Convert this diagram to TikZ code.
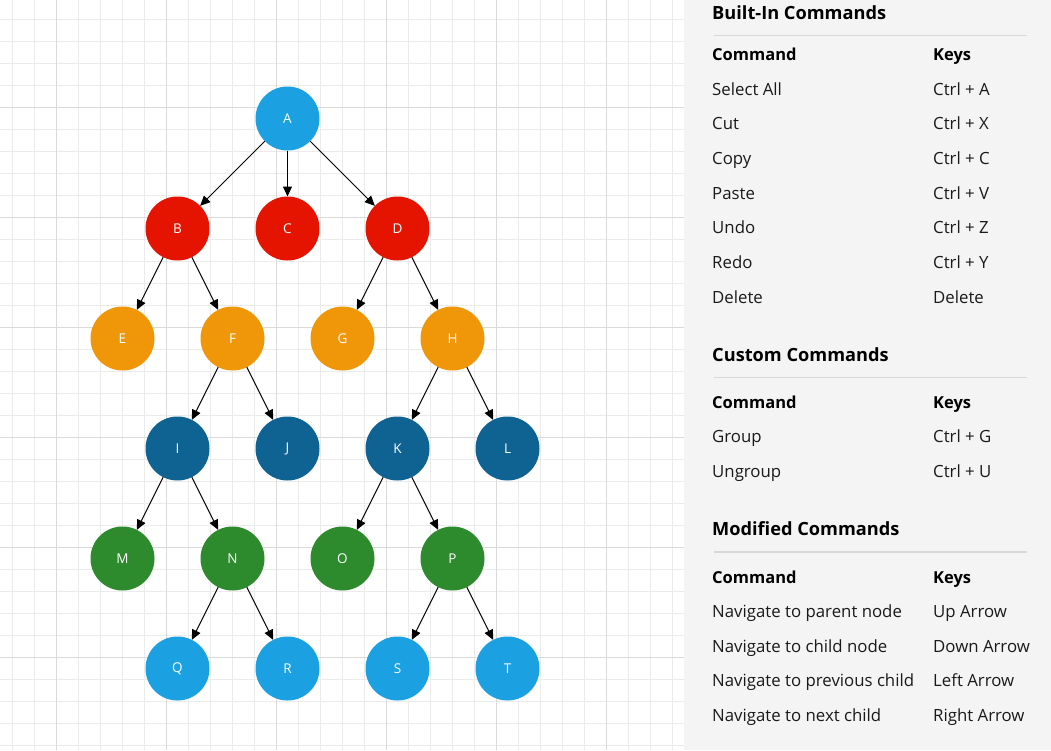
\documentclass[tikz,border=0pt]{standalone}
\usepackage{fontspec}
\setmainfont{Open Sans}
\usetikzlibrary{arrows.meta}
\definecolor{cLB}{HTML}{1BA1E2}
\definecolor{cRed}{HTML}{E51400}
\definecolor{cOr}{HTML}{F09609}
\definecolor{cDB}{HTML}{0E6392}
\definecolor{cGr}{HTML}{2D8A2D}
\definecolor{gridminor}{HTML}{EBEBEB}
\definecolor{gridmajor}{HTML}{DADADA}
\definecolor{panelbg}{HTML}{F4F4F4}
\definecolor{sepline}{HTML}{D8D8D8}
\definecolor{txt}{HTML}{1A1A1A}
\tikzset{
  treenode/.style={circle, minimum size=64pt, inner sep=0pt, outer sep=0pt, text=white, font=\fontsize{13.5}{15}\selectfont},
  lb/.style={treenode, fill=cLB},
  rd/.style={treenode, fill=cRed},
  og/.style={treenode, fill=cOr},
  db/.style={treenode, fill=cDB},
  gr/.style={treenode, fill=cGr},
  link/.style={draw=black, line width=1pt, -{Triangle[length=10pt,width=9pt]}},
  body/.style={anchor=base west, inner sep=0pt, text=txt, font=\fontsize{16.8}{19}\selectfont},
  colhead/.style={anchor=base west, inner sep=0pt, text=black, font=\fontsize{16.5}{19}\selectfont\bfseries},
  paneltitle/.style={anchor=base west, inner sep=0pt, text=black, font=\fontsize{18.2}{22}\selectfont\bfseries},
  sep/.style={draw=sepline, line width=1.5pt}
}
\begin{document}
\begin{tikzpicture}[x=1pt,y=-1pt]
\useasboundingbox (0,0) rectangle (1051,750);
\fill[white] (0,0) rectangle (684,750);
% grid
\foreach \i in {0,...,30} {
  \pgfmathsetmacro{\gx}{12.7+22*\i}
  \draw[gridminor, line width=1pt] (\gx,0) -- (\gx,750);
}
\foreach \i in {0,...,34} {
  \pgfmathsetmacro{\gy}{-3+22*\i}
  \draw[gridminor, line width=1pt] (0,\gy) -- (684,\gy);
}
\foreach \gx in {56.7,166.7,276.7,386.7,496.7,606.7}
  \draw[gridmajor, line width=1pt] (\gx,0) -- (\gx,750);
\foreach \gy in {107,217,327,437,547,657}
  \draw[gridmajor, line width=1pt] (0,\gy) -- (684,\gy);
% panel
\fill[panelbg] (684,0) rectangle (1051,750);

% tree nodes
\node[lb] (A) at (287.5,118.5) {A};
\node[rd] (B) at (177.5,228.5) {B};
\node[rd] (C) at (287.5,228.5) {C};
\node[rd] (D) at (397.5,228.5) {D};
\node[og] (E) at (122.5,338.5) {E};
\node[og] (F) at (232.5,338.5) {F};
\node[og] (G) at (342.5,338.5) {G};
\node[og] (H) at (452.5,338.5) {H};
\node[db] (I) at (177.5,448.5) {I};
\node[db] (J) at (287.5,448.5) {J};
\node[db] (K) at (397.5,448.5) {K};
\node[db] (L) at (507.5,448.5) {L};
\node[gr] (M) at (122.5,558.5) {M};
\node[gr] (N) at (232.5,558.5) {N};
\node[gr] (O) at (342.5,558.5) {O};
\node[gr] (P) at (452.5,558.5) {P};
\node[lb] (Q) at (177.5,668.5) {Q};
\node[lb] (R) at (287.5,668.5) {R};
\node[lb] (S) at (397.5,668.5) {S};
\node[lb] (T) at (507.5,668.5) {T};

\foreach \p/\c in {A/B,A/C,A/D,B/E,B/F,D/G,D/H,F/I,F/J,H/K,H/L,I/M,I/N,K/O,K/P,N/Q,N/R,P/S,P/T}
  \draw[link] (\p) -- (\c);

% panel texts
\node[paneltitle] (t1) at (712,19) {Built-In Commands};
\coordinate (s1a) at (714,35.5);
\coordinate (s1b) at (1027,35.5);
\draw[sep] (s1a) -- (s1b);
\node[colhead] (h1a) at (712,60.5) {Command};
\node[colhead] (h1b) at (933,60.5) {Keys};
\node[body] (r1a) at (712,95) {Select All};   \node[body] (r1b) at (933,95) {Ctrl + A};
\node[body] (r2a) at (712,129.7) {Cut};       \node[body] (r2b) at (933,129.7) {Ctrl + X};
\node[body] (r3a) at (712,164.3) {Copy};      \node[body] (r3b) at (933,164.3) {Ctrl + C};
\node[body] (r4a) at (712,199) {Paste};       \node[body] (r4b) at (933,199) {Ctrl + V};
\node[body] (r5a) at (712,233.7) {Undo};      \node[body] (r5b) at (933,233.7) {Ctrl + Z};
\node[body] (r6a) at (712,268.3) {Redo};      \node[body] (r6b) at (933,268.3) {Ctrl + Y};
\node[body] (r7a) at (712,303) {Delete};      \node[body] (r7b) at (933,303) {Delete};

\node[paneltitle] (t2) at (712,361) {Custom Commands};
\coordinate (s2a) at (714,377.5);
\coordinate (s2b) at (1027,377.5);
\draw[sep] (s2a) -- (s2b);
\node[colhead] (h2a) at (712,408) {Command};
\node[colhead] (h2b) at (933,408) {Keys};
\node[body] (g1a) at (712,442.5) {Group};     \node[body] (g1b) at (933,442.5) {Ctrl + G};
\node[body] (g2a) at (712,477) {Ungroup};     \node[body] (g2b) at (933,477) {Ctrl + U};

\node[paneltitle] (t3) at (712,535) {Modified Commands};
\coordinate (s3a) at (714,552);
\coordinate (s3b) at (1027,552);
\draw[sep] (s3a) -- (s3b);
\node[colhead] (h3a) at (712,583) {Command};
\node[colhead] (h3b) at (933,583) {Keys};
\node[body] (m1a) at (712,617.5) {Navigate to parent node};   \node[body] (m1b) at (933,617.5) {Up Arrow};
\node[body] (m2a) at (712,652) {Navigate to child node};      \node[body] (m2b) at (933,652) {Down Arrow};
\node[body] (m3a) at (712,686.5) {Navigate to previous child}; \node[body] (m3b) at (933,686.5) {Left Arrow};
\node[body] (m4a) at (712,721) {Navigate to next child};      \node[body] (m4b) at (933,721) {Right Arrow};
\end{tikzpicture}
\end{document}
